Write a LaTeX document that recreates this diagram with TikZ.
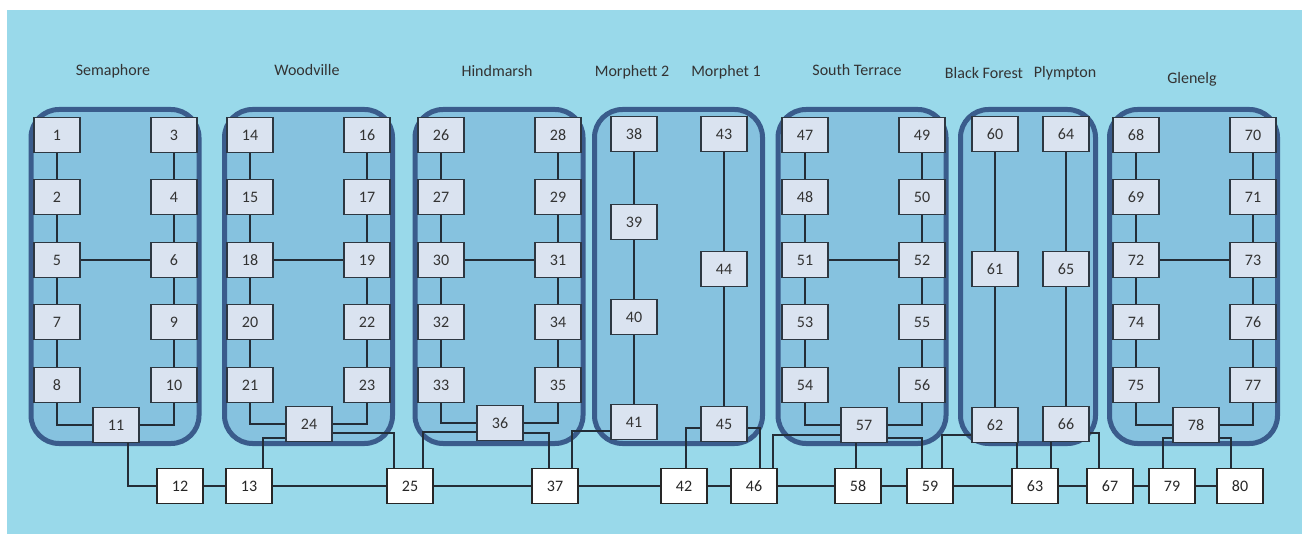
\documentclass[tikz,border=0pt]{standalone}
\usepackage{fontspec}
\setmainfont{Carlito}
\usepackage{tikz}
\definecolor{bgblue}{RGB}{153,217,234}
\definecolor{grpfill}{RGB}{134,194,223}
\definecolor{grpline}{RGB}{58,92,140}
\definecolor{stnfill}{RGB}{218,227,240}
\definecolor{stnline}{RGB}{45,55,65}
\definecolor{wirecol}{RGB}{35,45,55}

\begin{document}
\begin{tikzpicture}[
    x=1pt, y=-1pt,
    font=\fontsize{16}{19}\selectfont,
    grp/.style={
      draw=grpline, line width=5pt, rounded corners=28pt,
      fill=grpfill, inner sep=0pt, minimum width=168pt, minimum height=334pt
    },
    stn/.style={
      draw=stnline, line width=1.1pt, fill=stnfill, text=black!80,
      inner sep=0pt, minimum width=46pt, minimum height=35pt
    },
    sub/.style={
      draw=black!85, line width=1.3pt, fill=white, text=black!85,
      inner sep=0pt, minimum width=46pt, minimum height=35pt
    },
    wire/.style={draw=wirecol, line width=1.1pt},
    glabel/.style={text=black!80},
  ]
    \useasboundingbox (0,0) rectangle (1306,534);
    \fill[bgblue] (7,10) rectangle (1302,534);

    %── Substation groups ───────────────────────────────────────────────
    \node[grp] (gsem) at (115,276.5) {};
    \node[grp] (gwoo) at (308.5,276.5) {};
    \node[grp] (ghin) at (499,276.5) {};
    \node[grp] (gmor) at (678.5,276.5) {};
    \node[grp] (gsou) at (862,276.5) {};
    \node[grp, minimum width=135pt] (gbla) at (1028,276.5) {};
    \node[grp] (ggle) at (1193.5,276.5) {};

    %── Group labels ────────────────────────────────────────────────────
    \node[glabel] (lsem) at (113,71)  {Semaphore};
    \node[glabel] (lwoo) at (307,70)  {Woodville};
    \node[glabel] (lhin) at (497,71)  {Hindmarsh};
    \node[glabel] (lmo2) at (632,72)  {Morphett 2};
    \node[glabel] (lmo1) at (726,72)  {Morphet 1};
    \node[glabel] (lsou) at (857,70)  {South Terrace};
    \node[glabel] (lbla) at (984,73)  {Black Forest};
    \node[glabel] (lply) at (1065,73) {Plympton};
    \node[glabel] (lgle) at (1192,79) {Glenelg};

    %── Semaphore ───────────────────────────────────────────────────────
    \node[stn] (s1)  at (57,135)  {1};
    \node[stn] (s2)  at (57,197)  {2};
    \node[stn] (s5)  at (57,260)  {5};
    \node[stn] (s7)  at (57,322)  {7};
    \node[stn] (s8)  at (57,385)  {8};
    \node[stn] (s3)  at (174,135) {3};
    \node[stn] (s4)  at (174,197) {4};
    \node[stn] (s6)  at (174,260) {6};
    \node[stn] (s9)  at (174,322) {9};
    \node[stn] (s10) at (174,385) {10};
    \node[stn] (s11) at (116,425) {11};

    %── Woodville ───────────────────────────────────────────────────────
    \node[stn] (s14) at (250,135) {14};
    \node[stn] (s15) at (250,197) {15};
    \node[stn] (s18) at (250,260) {18};
    \node[stn] (s20) at (250,322) {20};
    \node[stn] (s21) at (250,385) {21};
    \node[stn] (s16) at (367,135) {16};
    \node[stn] (s17) at (367,197) {17};
    \node[stn] (s19) at (367,260) {19};
    \node[stn] (s22) at (367,322) {22};
    \node[stn] (s23) at (367,385) {23};
    \node[stn] (s24) at (309,424) {24};

    %── Hindmarsh ───────────────────────────────────────────────────────
    \node[stn] (s26) at (441,135) {26};
    \node[stn] (s27) at (441,197) {27};
    \node[stn] (s30) at (441,260) {30};
    \node[stn] (s32) at (441,322) {32};
    \node[stn] (s33) at (441,385) {33};
    \node[stn] (s28) at (558,135) {28};
    \node[stn] (s29) at (558,197) {29};
    \node[stn] (s31) at (558,260) {31};
    \node[stn] (s34) at (558,322) {34};
    \node[stn] (s35) at (558,385) {35};
    \node[stn] (s36) at (500,423) {36};

    %── Morphett 2 / Morphet 1 ──────────────────────────────────────────
    \node[stn] (s38) at (634,134) {38};
    \node[stn] (s39) at (634,222) {39};
    \node[stn] (s40) at (634,317) {40};
    \node[stn] (s41) at (634,422) {41};
    \node[stn] (s43) at (724,134) {43};
    \node[stn] (s44) at (724,269) {44};
    \node[stn] (s45) at (724,424) {45};

    %── South Terrace ───────────────────────────────────────────────────
    \node[stn] (s47) at (805,135) {47};
    \node[stn] (s48) at (805,197) {48};
    \node[stn] (s51) at (805,260) {51};
    \node[stn] (s53) at (805,322) {53};
    \node[stn] (s54) at (805,385) {54};
    \node[stn] (s49) at (922,135) {49};
    \node[stn] (s50) at (922,197) {50};
    \node[stn] (s52) at (922,260) {52};
    \node[stn] (s55) at (922,322) {55};
    \node[stn] (s56) at (922,385) {56};
    \node[stn] (s57) at (864,425) {57};

    %── Black Forest / Plympton ─────────────────────────────────────────
    \node[stn] (s60) at (995,134)  {60};
    \node[stn] (s61) at (995,269)  {61};
    \node[stn] (s62) at (995,425)  {62};
    \node[stn] (s64) at (1066,134) {64};
    \node[stn] (s65) at (1066,269) {65};
    \node[stn] (s66) at (1066,424) {66};

    %── Glenelg ─────────────────────────────────────────────────────────
    \node[stn] (s68) at (1136,135) {68};
    \node[stn] (s69) at (1136,197) {69};
    \node[stn] (s72) at (1136,260) {72};
    \node[stn] (s74) at (1136,322) {74};
    \node[stn] (s75) at (1136,385) {75};
    \node[stn] (s70) at (1253,135) {70};
    \node[stn] (s71) at (1253,197) {71};
    \node[stn] (s73) at (1253,260) {73};
    \node[stn] (s76) at (1253,322) {76};
    \node[stn] (s77) at (1253,385) {77};
    \node[stn] (s78) at (1196,425) {78};

    %── Bottom line ─────────────────────────────────────────────────────
    \node[sub] (s12) at (180,486)  {12};
    \node[sub] (s13) at (249,486)  {13};
    \node[sub] (s25) at (410,486)  {25};
    \node[sub] (s37) at (555,486)  {37};
    \node[sub] (s42) at (684,486)  {42};
    \node[sub] (s46) at (754,486)  {46};
    \node[sub] (s58) at (858,486)  {58};
    \node[sub] (s59) at (930,486)  {59};
    \node[sub] (s63) at (1035,486) {63};
    \node[sub] (s67) at (1110,486) {67};
    \node[sub] (s79) at (1172,486) {79};
    \node[sub] (s80) at (1240,486) {80};

    %── Ladders inside the groups ───────────────────────────────────────
    \draw[wire] (s1) -- (s2) -- (s5) -- (s7) -- (s8);
    \draw[wire] (s3) -- (s4) -- (s6) -- (s9) -- (s10);
    \draw[wire] (s5) -- (s6);
    \draw[wire] (s8) |- (s11);
    \draw[wire] (s10) |- (s11);

    \draw[wire] (s14) -- (s15) -- (s18) -- (s20) -- (s21);
    \draw[wire] (s16) -- (s17) -- (s19) -- (s22) -- (s23);
    \draw[wire] (s18) -- (s19);
    \draw[wire] (s21) |- (s24);
    \draw[wire] (s23) |- (s24);

    \draw[wire] (s26) -- (s27) -- (s30) -- (s32) -- (s33);
    \draw[wire] (s28) -- (s29) -- (s31) -- (s34) -- (s35);
    \draw[wire] (s30) -- (s31);
    \draw[wire] (s33) |- (s36);
    \draw[wire] (s35) |- (s36);

    \draw[wire] (s38) -- (s39) -- (s40) -- (s41);
    \draw[wire] (s43) -- (s44) -- (s45);

    \draw[wire] (s47) -- (s48) -- (s51) -- (s53) -- (s54);
    \draw[wire] (s49) -- (s50) -- (s52) -- (s55) -- (s56);
    \draw[wire] (s51) -- (s52);
    \draw[wire] (s54) |- (s57);
    \draw[wire] (s56) |- (s57);

    \draw[wire] (s60) -- (s61) -- (s62);
    \draw[wire] (s64) -- (s65) -- (s66);

    \draw[wire] (s68) -- (s69) -- (s72) -- (s74) -- (s75);
    \draw[wire] (s70) -- (s71) -- (s73) -- (s76) -- (s77);
    \draw[wire] (s72) -- (s73);
    \draw[wire] (s75) |- (s78);
    \draw[wire] (s77) |- (s78);

    %── Feeders down to the bottom line ─────────────────────────────────
    \draw[wire] ([xshift=12pt]s11.south) |- (s12);
    \draw[wire] ([yshift=-14pt]s24.west) -| ([xshift=14pt]s13.north);
    \draw[wire] ([yshift=-9pt]s24.east) -| ([xshift=-16pt]s25.north);
    \draw[wire] ([yshift=-9pt]s36.west) -| ([xshift=13pt]s25.north);
    \draw[wire] ([yshift=-10pt]s36.east) -| ([xshift=-6pt]s37.north);
    \draw[wire] ([yshift=-9pt]s41.west) -| ([xshift=17pt]s37.north);
    \draw[wire] ([yshift=-4pt]s45.west) -| ([xshift=2pt]s42.north);
    \draw[wire] ([yshift=-4pt]s45.east) -| ([xshift=6pt]s46.north);
    \draw[wire] ([yshift=-10pt]s57.west) -| ([xshift=19pt]s46.north);
    \draw[wire] ([xshift=-8pt]s57.south) -- ([xshift=-2pt]s58.north);
    \draw[wire] ([yshift=-13pt]s57.east) -| ([xshift=-8pt]s59.north);
    \draw[wire] ([yshift=-10pt]s62.west) -| ([xshift=12pt]s59.north);
    \draw[wire] ([xshift=22pt]s62.south) -- ([xshift=-18pt]s63.north);
    \draw[wire] ([xshift=-15pt]s66.south) -- ([xshift=16pt]s63.north);
    \draw[wire] ([yshift=-9pt]s66.east) -| ([xshift=-11pt]s67.north);
    \draw[wire] ([yshift=-13pt]s78.west) -| ([xshift=-9pt]s79.north);
    \draw[wire] ([yshift=-13pt]s78.east) -| ([xshift=-9pt]s80.north);

    \draw[wire] (s12) -- (s13) -- (s25) -- (s37) -- (s42) -- (s46)
      -- (s58) -- (s59) -- (s63) -- (s67) -- (s79) -- (s80);

  \end{tikzpicture}
\end{document}
